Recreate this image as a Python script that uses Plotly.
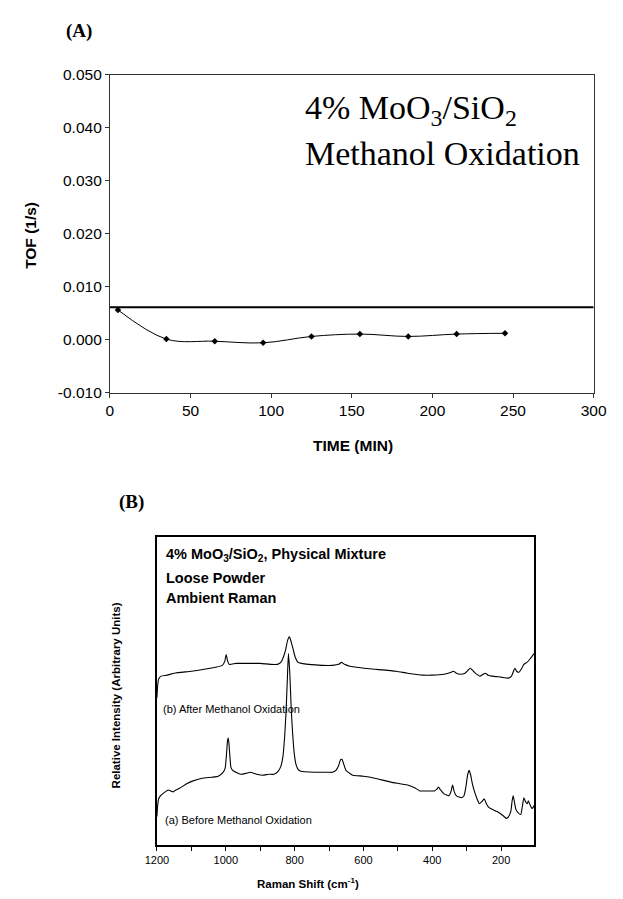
import plotly.graph_objects as go

# ---------------- Panel A data ----------------
time_min = [5, 35, 65, 95, 125, 155, 185, 215, 245]
tof = [0.0056, 0.0001, -0.0003, -0.0006, 0.0006, 0.00105, 0.0006, 0.00105, 0.0012]
ref_time = [0, 300]
ref_tof = [0.0061, 0.0061]
tof_tickvals = [-0.010, 0.000, 0.010, 0.020, 0.030, 0.040, 0.050]
tof_ticktext = ["-0.010", "0.000", "0.010", "0.020", "0.030", "0.040", "0.050"]
time_tickvals = [0, 50, 100, 150, 200, 250, 300]

# ---------------- Panel B data ----------------
shift_b = [1200, 1198, 1195, 1188, 1170, 1150, 1100, 1063, 1030, 1010, 1003, 999, 995, 990,
           970, 930, 900, 870, 850, 840, 832, 826, 820, 815, 810, 804, 798, 790, 780, 760,
           720, 690, 672, 664, 655, 640, 598, 567, 505, 472, 427, 400, 366, 345, 338, 330,
           319, 305, 296, 290, 283, 275, 262, 252, 246, 238, 226, 200, 179, 170, 164, 160,
           155, 148, 140, 134, 125, 115, 104]
int_b = [150, 162, 169, 172, 173, 175, 177, 179, 181, 183, 187, 194, 188, 184,
         185, 185, 185, 184, 184, 186, 192, 199, 209, 212, 207, 199, 191, 186, 185, 184,
         183, 183, 184, 186, 184, 182, 180, 179, 177, 175, 173, 173, 174, 176, 177, 175,
         174, 175, 178, 180, 178, 175, 172, 174, 175, 173, 172, 171, 170, 172, 177, 180,
         177, 176, 180, 184, 186, 190, 195]

shift_a = [1200, 1198, 1195, 1190, 1180, 1167, 1160, 1153, 1145, 1133, 1115, 1097, 1069, 1040,
           1022, 1008, 1002, 998, 995, 993, 991, 988, 985, 980, 957, 940, 929, 910, 893, 875,
           860, 848, 840, 834, 829, 825, 821, 818, 814, 810, 806, 801, 796, 790, 782, 743,
           700, 690, 680, 672, 666, 662, 657, 651, 640, 631, 600, 567, 520, 472, 450, 436,
           408, 394, 386, 382, 376, 366, 352, 346, 341, 336, 330, 315, 308, 302, 297, 293,
           289, 284, 278, 270, 263, 256, 249, 243, 235, 212, 195, 185, 180, 172, 168, 165,
           162, 157, 151, 143, 138, 134, 129, 124, 121, 115, 110, 104]
int_a = [29, 40, 47, 50, 53, 56, 55, 54, 56, 58, 62, 65, 68, 69,
         70, 74, 78, 92, 106, 109, 104, 90, 79, 76, 72, 73, 74, 72, 71, 72,
         72, 75, 80, 90, 110, 135, 170, 195, 175, 140, 115, 93, 82, 77, 75, 74,
         74, 74, 76, 81, 87, 87, 82, 76, 73, 71, 70, 68, 64, 61, 58, 55,
         55, 55, 57, 59, 56, 52, 50, 54, 61, 54, 50, 48, 50, 60, 72, 76,
         72, 63, 55, 47, 42, 44, 47, 42, 38, 34, 30, 27, 28, 34, 45, 50,
         45, 36, 33, 31, 40, 48, 44, 42, 45, 40, 37, 40]
shift_tickvals = [1200, 1000, 800, 600, 400, 200]

W, H = 623, 899


def px(x):
    return x / W


def py(y):
    return 1 - y / H


SANS = "Arial, Liberation Sans, sans-serif"
SERIF = "Times New Roman, Liberation Serif, serif"

fig = go.Figure()

fig.add_trace(go.Scatter(x=ref_time, y=ref_tof, mode="lines",
                         line=dict(color="black", width=2),
                         xaxis="x", yaxis="y", showlegend=False))
fig.add_trace(go.Scatter(x=time_min, y=tof, mode="lines+markers",
                         line=dict(color="black", width=1, shape="spline"),
                         marker=dict(color="black", size=5, symbol="diamond"),
                         xaxis="x", yaxis="y", showlegend=False))

fig.add_trace(go.Scatter(x=shift_b, y=int_b, mode="lines",
                         line=dict(color="black", width=1.1, shape="spline", smoothing=0.5),
                         xaxis="x2", yaxis="y2", showlegend=False))
fig.add_trace(go.Scatter(x=shift_a, y=int_a, mode="lines",
                         line=dict(color="black", width=1.1, shape="spline", smoothing=0.5),
                         xaxis="x2", yaxis="y2", showlegend=False))

fig.update_layout(
    width=W, height=H,
    margin=dict(l=0, r=0, t=0, b=0),
    paper_bgcolor="white", plot_bgcolor="white",
    xaxis=dict(domain=[px(102), px(606)], anchor="y", range=[0, 300],
               tickvals=time_tickvals, ticks="outside", ticklen=4, tickcolor="#333",
               showline=True, mirror=True, linecolor="#333", linewidth=1,
               showgrid=False, zeroline=False,
               tickfont=dict(family=SANS, size=15.5, color="black")),
    yaxis=dict(domain=[py(391), py(67)], anchor="x", range=[-0.010, 0.050],
               tickvals=tof_tickvals, ticktext=tof_ticktext,
               ticks="outside", ticklen=4, tickcolor="#333",
               showline=True, mirror=True, linecolor="#333", linewidth=1,
               showgrid=False, zeroline=False,
               tickfont=dict(family=SANS, size=15.5, color="black")),
    xaxis2=dict(domain=[px(151), px(544)], anchor="y2", range=[1200, 104],
                tickvals=shift_tickvals, ticktext=[str(v) for v in shift_tickvals],
                ticks="outside", ticklen=4, tickcolor="black",
                minor=dict(dtick=100, ticks="outside", ticklen=4, tickcolor="black"),
                showline=True, mirror=True, linecolor="black", linewidth=1.5,
                showgrid=False, zeroline=False,
                tickfont=dict(family=SANS, size=11, color="black")),
    yaxis2=dict(domain=[py(852), py(538)], anchor="x2", range=[0, 314],
                showticklabels=False, ticks="",
                showline=True, mirror=True, linecolor="black", linewidth=1.5,
                showgrid=False, zeroline=False),
)

ann = [
    dict(text="<b>(A)</b>", x=px(54), y=py(22), xanchor="left", yanchor="middle",
         font=dict(family=SERIF, size=19, color="black")),
    dict(text="4% MoO<sub>3</sub>/SiO<sub>2</sub>", x=px(303), y=py(126), xanchor="left",
         yanchor="bottom", font=dict(family=SERIF, size=34, color="black")),
    dict(text="Methanol Oxidation", x=px(303), y=py(126), xanchor="left",
         yanchor="top", font=dict(family=SERIF, size=34, color="black")),
    dict(text="<b>TOF (1/s)</b>", x=px(19), y=py(231), xanchor="center", yanchor="middle",
         textangle=-90, font=dict(family=SANS, size=15.5, color="black")),
    dict(text="<b>TIME (MIN)</b>", x=px(355), y=py(445), xanchor="center", yanchor="middle",
         font=dict(family=SANS, size=15.5, color="black")),
    dict(text="<b>(B)</b>", x=px(109), y=py(502), xanchor="left", yanchor="middle",
         font=dict(family=SERIF, size=19, color="black")),
    dict(text="<b>4% MoO<sub>3</sub>/SiO<sub>2</sub>, Physical Mixture</b>", x=px(158), y=py(557),
         xanchor="left", yanchor="middle", font=dict(family=SANS, size=14.5, color="black")),
    dict(text="<b>Loose Powder</b>", x=px(158), y=py(580),
         xanchor="left", yanchor="middle", font=dict(family=SANS, size=14.5, color="black")),
    dict(text="<b>Ambient Raman</b>", x=px(158), y=py(600),
         xanchor="left", yanchor="middle", font=dict(family=SANS, size=14.5, color="black")),
    dict(text="(b) After Methanol Oxidation", x=px(155), y=py(713),
         xanchor="left", yanchor="middle", font=dict(family=SANS, size=11, color="black")),
    dict(text="(a) Before Methanol Oxidation", x=px(157), y=py(827),
         xanchor="left", yanchor="middle", font=dict(family=SANS, size=11, color="black")),
    dict(text="<b>Relative Intensity (Arbitrary Units)</b>", x=px(108), y=py(700),
         xanchor="center", yanchor="middle", textangle=-90,
         font=dict(family=SANS, size=11.5, color="black")),
    dict(text="<b>Raman Shift (cm<sup>-1</sup>)</b>", x=px(308), y=py(891),
         xanchor="center", yanchor="middle", font=dict(family=SANS, size=11.5, color="black")),
]
for a in ann:
    a.update(xref="paper", yref="paper", showarrow=False)
fig.update_layout(annotations=ann)

fig.write_html("out.html")
